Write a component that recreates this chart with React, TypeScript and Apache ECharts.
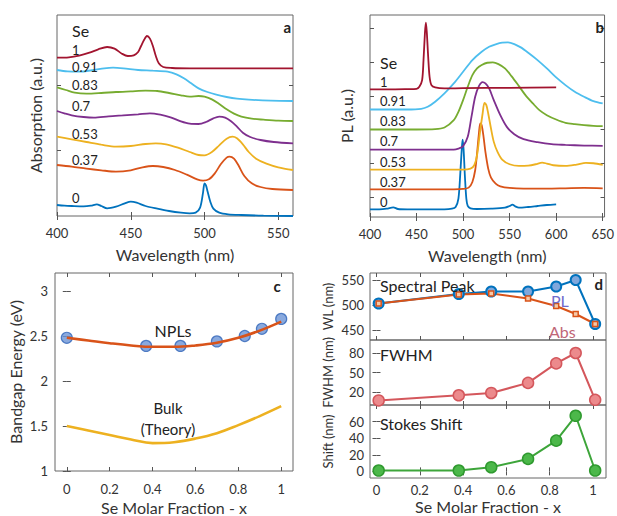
import React, { useEffect, useRef } from "react";
import * as echarts from "echarts";

const FONT = "Lato, 'Noto Sans', sans-serif";
const C = {
  blue: "#0072BD",
  orange: "#D95319",
  yellow: "#EDB120",
  purple: "#7E2F8E",
  green: "#77AC30",
  cyan: "#4DBEEE",
  red: "#A2142F",
};

type P = [number, number][];

// ---------- Panel a: absorption (offset, arbitrary units) ----------
const abs0: P = [[400,33],[405,31],[410,30],[418,29],[423,31],[427,35],[430,30],[434,23],[440,28],[446,38],[450,43],[454,40],[460,30],[468,22],[476,15],[484,10],[490,8],[494,10],[497,25],[499,70],[500,98],[501,92],[502,75],[504,42],[506,22],[510,10],[516,5],[525,3],[540,1],[560,0]];
const abs37: P = [[400,153],[410,148],[420,142],[430,137],[440,133],[450,137],[458,146],[465,150],[472,147],[480,138],[488,124],[495,110],[499,106],[503,110],[507,128],[511,155],[515,175],[517,178],[520,172],[523,152],[527,120],[532,98],[538,87],[546,81],[560,78]];
const abs53: P = [[400,238],[410,230],[420,222],[430,214],[440,208],[450,210],[460,216],[467,218],[474,215],[482,205],[490,192],[496,183],[500,182],[505,192],[510,212],[515,232],[519,238],[522,233],[526,215],[530,192],[535,172],[542,157],[550,146],[560,138]];
const abs70: P = [[400,315],[405,308],[410,302],[418,297],[425,295],[435,299],[445,302],[455,305],[463,308],[470,304],[477,296],[484,284],[490,277],[496,276],[501,282],[506,293],[510,298],[514,295],[518,284],[522,268],[526,250],[531,237],[538,228],[547,222],[560,218]];
const abs83: P = [[400,386],[406,378],[412,370],[420,367],[430,369],[440,372],[450,374],[460,376],[468,375],[476,369],[484,362],[490,358],[496,360],[500,358],[505,350],[510,336],[515,320],[520,307],[525,298],[532,292],[540,289],[550,286],[560,285]];
const abs91: P = [[400,438],[407,434],[415,433],[425,438],[432,443],[438,445],[445,443],[455,438],[465,436],[475,433],[481,425],[486,413],[491,398],[496,383],[502,372],[508,364],[515,357],[522,352],[530,349],[545,346],[560,345]];
const abs100: P = [[400,475],[408,476],[415,481],[422,490],[428,500],[434,507],[439,502],[444,487],[448,480],[452,482],[455,492],[457,510],[459,528],[461,540],[463,532],[465,510],[467,480],[469,458],[472,447],[478,444],[490,443],[560,443]];
const absTicks = [198, 393];

// ---------- Panel b: PL (offset, arbitrary units) ----------
const pl0: P = [[400,23],[410,23],[418,25],[425,29],[430,24],[440,23],[460,23],[480,23],[488,25],[492,30],[495,55],[497,130],[498.5,200],[499.5,232],[500.5,205],[502,120],[503.5,55],[505,33],[508,26],[515,24],[530,25],[545,28],[550,33],[553,37],[556,32],[560,28],[570,30],[580,33],[590,36],[600,38]];
const pl37: P = [[400,83],[450,83],[490,83],[500,84],[506,88],[510,105],[513,140],[515,190],[517,250],[518.5,280],[520,275],[522,240],[524,195],[527,145],[530,118],[535,100],[540,92],[550,87],[565,85],[590,85],[610,86],[630,87],[650,86]];
const pl53: P = [[400,142],[450,142],[500,142],[508,145],[512,155],[515,185],[518,250],[521,310],[523,342],[525,335],[527,310],[530,265],[533,225],[537,195],[542,172],[550,158],[560,153],[570,154],[578,158],[585,163],[590,160],[597,155],[610,153],[622,157],[632,162],[640,161],[650,156]];
const pl70: P = [[400,202],[450,202],[490,202],[495,205],[500,212],[505,240],[509,300],[513,360],[517,392],[521,404],[524,400],[528,385],[533,350],[540,305],[547,270],[555,248],[565,233],[580,224],[595,218],[610,216],[630,214],[650,213]];
const pl83: P = [[400,262],[450,262],[470,263],[480,268],[490,290],[495,315],[500,350],[505,390],[510,425],[515,445],[520,455],[526,462],[532,463],[538,458],[545,445],[552,422],[560,392],[567,365],[575,340],[582,320],[590,305],[600,292],[610,282],[620,278],[630,275],[640,273],[650,272]];
const pl91: P = [[400,322],[420,322],[440,322],[455,324],[462,330],[470,345],[480,370],[490,400],[500,435],[510,470],[520,495],[528,510],[535,517],[542,522],[548,523],[555,518],[562,508],[570,492],[580,470],[590,445],[600,418],[610,395],[620,375],[630,360],[640,347],[650,340]];
const pl100: P = [[400,382],[420,382],[440,383],[450,384],[453,390],[456,410],[457.5,470],[459,550],[460,582],[461,555],[462.5,480],[464,420],[466,395],[470,388],[480,385],[500,386],[550,387],[600,388]];
const plTicks = [60, 162, 262, 362, 463, 565];

const seLabels = ["1", "0.91", "0.83", "0.7", "0.53", "0.37", "0"];

// ---------- Panel c: bandgap ----------
const nplX = [0, 0.37, 0.53, 0.7, 0.83, 0.91, 1];
const nplY = [2.48, 2.39, 2.39, 2.44, 2.5, 2.58, 2.69];
const fitX = [0, 0.1, 0.2, 0.3, 0.4, 0.5, 0.6, 0.7, 0.8, 0.9, 1];
const fitY = [2.48, 2.45, 2.42, 2.395, 2.38, 2.38, 2.395, 2.425, 2.48, 2.56, 2.66];
const bulkY = [1.5, 1.45, 1.4, 1.35, 1.31, 1.32, 1.36, 1.42, 1.51, 1.61, 1.72];

// ---------- Panel d ----------
const dX = [0.01, 0.38, 0.53, 0.7, 0.83, 0.92, 1.01];
const peakPL = [503, 522, 527, 527, 537, 550, 462];
const peakAbs = [503, 521, 523, 513, 498, 482, 462];
const fwhm = [7, 15, 18.5, 34, 64, 80, 8];
const stokes = [1, 1, 5, 15, 37, 67, 1];

const fracTicks = [0, 0.2, 0.4, 0.6, 0.8, 1];

type Ax = {
  min: number;
  max: number;
  ticks: number[];
  labels?: boolean;
  name?: string;
  nameGap?: number;
  nameSize?: number;
  margin?: number;
};

const grids = [
  { left: 57, top: 15, width: 236, height: 201 },
  { left: 370, top: 15, width: 237, height: 202 },
  { left: 55, top: 273, width: 238, height: 201 },
  { left: 370, top: 273, width: 236, height: 67 },
  { left: 370, top: 340, width: 236, height: 65 },
  { left: 370, top: 405, width: 236, height: 73 },
];

const TXT = "#333";

function tickCfg(ticks: number[]) {
  return {
    show: true,
    inside: true,
    length: 4,
    customValues: ticks,
    lineStyle: { color: "#555", width: 1 },
  };
}

function mkX(gi: number, a: Ax, pos: "bottom" | "top") {
  const main = pos === "bottom";
  return {
    type: "value",
    gridIndex: gi,
    position: pos,
    min: a.min,
    max: a.max,
    axisLine: { show: false },
    splitLine: { show: false },
    axisTick: tickCfg(a.ticks),
    axisLabel: {
      show: main && !!a.labels,
      customValues: a.ticks,
      margin: a.margin ?? 8,
      fontFamily: FONT,
      fontSize: 13,
      color: TXT,
    },
    name: main ? a.name : undefined,
    nameLocation: "middle",
    nameGap: a.nameGap ?? 25,
    nameTextStyle: { fontFamily: FONT, fontSize: a.nameSize ?? 16, color: TXT },
  };
}

function mkY(gi: number, a: Ax, pos: "left" | "right") {
  const main = pos === "left";
  return {
    type: "value",
    gridIndex: gi,
    position: pos,
    min: a.min,
    max: a.max,
    axisLine: { show: false },
    splitLine: { show: false },
    axisTick: tickCfg(a.ticks),
    axisLabel: {
      show: main && !!a.labels,
      customValues: a.ticks,
      margin: a.margin ?? 7,
      fontFamily: FONT,
      fontSize: 13,
      color: TXT,
    },
    name: main ? a.name : undefined,
    nameLocation: "middle",
    nameGap: a.nameGap ?? 25,
    nameTextStyle: { fontFamily: FONT, fontSize: a.nameSize ?? 16, color: TXT },
  };
}

function txt(text: string, x: number, y: number, o: any = {}) {
  return {
    type: "text",
    x,
    y,
    z: 100,
    style: {
      text,
      font: `${o.bold ? "bold " : ""}${o.size ?? 13}px ${FONT}`,
      fill: o.color ?? "#222",
      textAlign: o.align ?? "left",
      textVerticalAlign: "middle",
    },
  };
}

function spectrum(data: P, color: string, gi: number) {
  return {
    type: "line",
    data,
    xAxisIndex: gi * 2,
    yAxisIndex: gi * 2,
    showSymbol: false,
    smooth: 0.3,
    lineStyle: { color, width: 1.8 },
    itemStyle: { color },
  };
}

function zip(xs: number[], ys: number[]) {
  return xs.map((x, i) => [x, ys[i]]);
}

export default function App() {
  const ref = useRef<HTMLDivElement>(null);
  useEffect(() => {
    document.body.style.margin = "0";
    if (!ref.current) return;
    const chart = echarts.init(ref.current, undefined, { renderer: "svg" });

    const axDefs: [Ax, Ax][] = [
      [
        { min: 400, max: 560, ticks: [400, 450, 500, 550], labels: true, name: "Wavelength (nm)", nameGap: 30, margin: 10 },
        { min: 0, max: 603, ticks: absTicks, name: "Absorption (a.u.)", nameGap: 14 },
      ],
      [
        { min: 400, max: 652, ticks: [400, 450, 500, 550, 600, 650], labels: true, name: "Wavelength (nm)", nameGap: 30, margin: 10 },
        { min: 0, max: 605, ticks: plTicks, name: "PL (a.u.)", nameGap: 16 },
      ],
      [
        { min: -0.055, max: 1.055, ticks: fracTicks, labels: true, name: "Se Molar Fraction - x", nameGap: 28, margin: 11 },
        { min: 1, max: 3.2, ticks: [1, 1.5, 2, 2.5, 3], labels: true, name: "Bandgap Energy (eV)", nameGap: 32 },
      ],
      [
        { min: -0.03, max: 1.06, ticks: fracTicks },
        { min: 430, max: 564, ticks: [450, 500, 550], labels: true, name: "WL (nm)", nameGap: 36, nameSize: 13, margin: 6 },
      ],
      [
        { min: -0.03, max: 1.06, ticks: fracTicks },
        { min: 0, max: 100, ticks: [20, 50, 80], labels: true, name: "FWHM (nm)", nameGap: 36, nameSize: 13, margin: 6 },
      ],
      [
        { min: -0.03, max: 1.06, ticks: fracTicks, labels: true, name: "Se Molar Fraction - x", nameGap: 20, margin: 5 },
        { min: -8, max: 80, ticks: [0, 20, 40, 60], labels: true, name: "Shift (nm)", nameGap: 36, nameSize: 13, margin: 6 },
      ],
    ];

    const xAxis: any[] = [];
    const yAxis: any[] = [];
    axDefs.forEach(([x, y], gi) => {
      xAxis.push(mkX(gi, x, "bottom"), mkX(gi, x, "top"));
      yAxis.push(mkY(gi, y, "left"), mkY(gi, y, "right"));
    });

    const absSeries = [abs0, abs37, abs53, abs70, abs83, abs91, abs100];
    const plSeries = [pl0, pl37, pl53, pl70, pl83, pl91, pl100];
    const colors = [C.blue, C.orange, C.yellow, C.purple, C.green, C.cyan, C.red];

    const series: any[] = [];
    absSeries.forEach((d, i) => series.push(spectrum(d, colors[i], 0)));
    plSeries.forEach((d, i) => series.push(spectrum(d, colors[i], 1)));

    // panel c
    series.push({
      type: "line", xAxisIndex: 4, yAxisIndex: 4, data: zip(fitX, bulkY), smooth: 0.4, showSymbol: false,
      lineStyle: { color: C.yellow, width: 2.6 },
    });
    series.push({
      type: "scatter", xAxisIndex: 4, yAxisIndex: 4, data: zip(nplX, nplY), symbolSize: 11,
      itemStyle: { color: "#6b93d6", borderColor: "#2e63b8", borderWidth: 1.2 }, z: 2,
    });
    series.push({
      type: "line", xAxisIndex: 4, yAxisIndex: 4, data: zip(fitX, fitY), smooth: 0.4, showSymbol: false,
      lineStyle: { color: C.orange, width: 2.6 }, z: 3,
    });

    // panel d1
    series.push({
      type: "line", xAxisIndex: 6, yAxisIndex: 6, data: zip(dX, peakPL), symbol: "circle", symbolSize: 10,
      lineStyle: { color: C.blue, width: 2 },
      itemStyle: { color: "#7fa7dc", borderColor: C.blue, borderWidth: 2 },
    });
    series.push({
      type: "line", xAxisIndex: 6, yAxisIndex: 6, data: zip(dX, peakAbs), symbol: "rect", symbolSize: 5,
      lineStyle: { color: C.orange, width: 2 },
      itemStyle: { color: "#f5c9a8", borderColor: C.orange, borderWidth: 1.5 },
    });
    // d2
    series.push({
      type: "line", xAxisIndex: 8, yAxisIndex: 8, data: zip(dX, fwhm), symbol: "circle", symbolSize: 11,
      lineStyle: { color: "#d4575c", width: 2 },
      itemStyle: { color: "#ec8a8c", borderColor: "#d4575c", borderWidth: 1.5 },
    });
    // d3
    series.push({
      type: "line", xAxisIndex: 10, yAxisIndex: 10, data: zip(dX, stokes), symbol: "circle", symbolSize: 11,
      lineStyle: { color: "#3da53a", width: 2 },
      itemStyle: { color: "#4cb84a", borderColor: "#2f9a2f", borderWidth: 1.5 },
    });

    const aY = [50, 67, 85, 106, 134, 160, 198];
    const bY = [82, 101, 121, 141, 162, 182, 202];
    const graphic: any[] = [
      txt("Se", 72, 30, { size: 16 }),
      txt("a", 291, 27, { size: 15, bold: true, align: "right" }),
      txt("Se", 380, 62, { size: 16 }),
      txt("b", 604, 27, { size: 15, bold: true, align: "right" }),
      txt("NPLs", 173, 330, { size: 16, align: "center" }),
      txt("Bulk", 168, 408, { size: 15, align: "center" }),
      txt("(Theory)", 168, 429, { size: 15, align: "center" }),
      txt("c", 277, 286, { size: 15, bold: true, align: "center" }),
      txt("Spectral Peak", 380, 285, { size: 16 }),
      txt("PL", 551, 300, { size: 16, color: "#6f6ccc" }),
      txt("Abs", 549, 331, { size: 16, color: "#c06677" }),
      txt("d", 603, 284, { size: 15, bold: true, align: "right" }),
      txt("FWHM", 380, 354, { size: 16 }),
      txt("Stokes Shift", 380, 423, { size: 16 }),
    ];
    seLabels.forEach((s, i) => {
      graphic.push(txt(s, 72, aY[i], { size: 13 }));
      graphic.push(txt(s, 380, bY[i], { size: 13 }));
    });

    chart.setOption({
      animation: false,
      backgroundColor: "#fff",
      textStyle: { fontFamily: FONT },
      grid: grids.map((g) => ({ ...g, show: true, borderColor: "#666", borderWidth: 1, containLabel: false })),
      xAxis,
      yAxis,
      series,
      graphic,
    });
    return () => chart.dispose();
  }, []);
  return <div ref={ref} style={{ width: 617, height: 516 }} />;
}
